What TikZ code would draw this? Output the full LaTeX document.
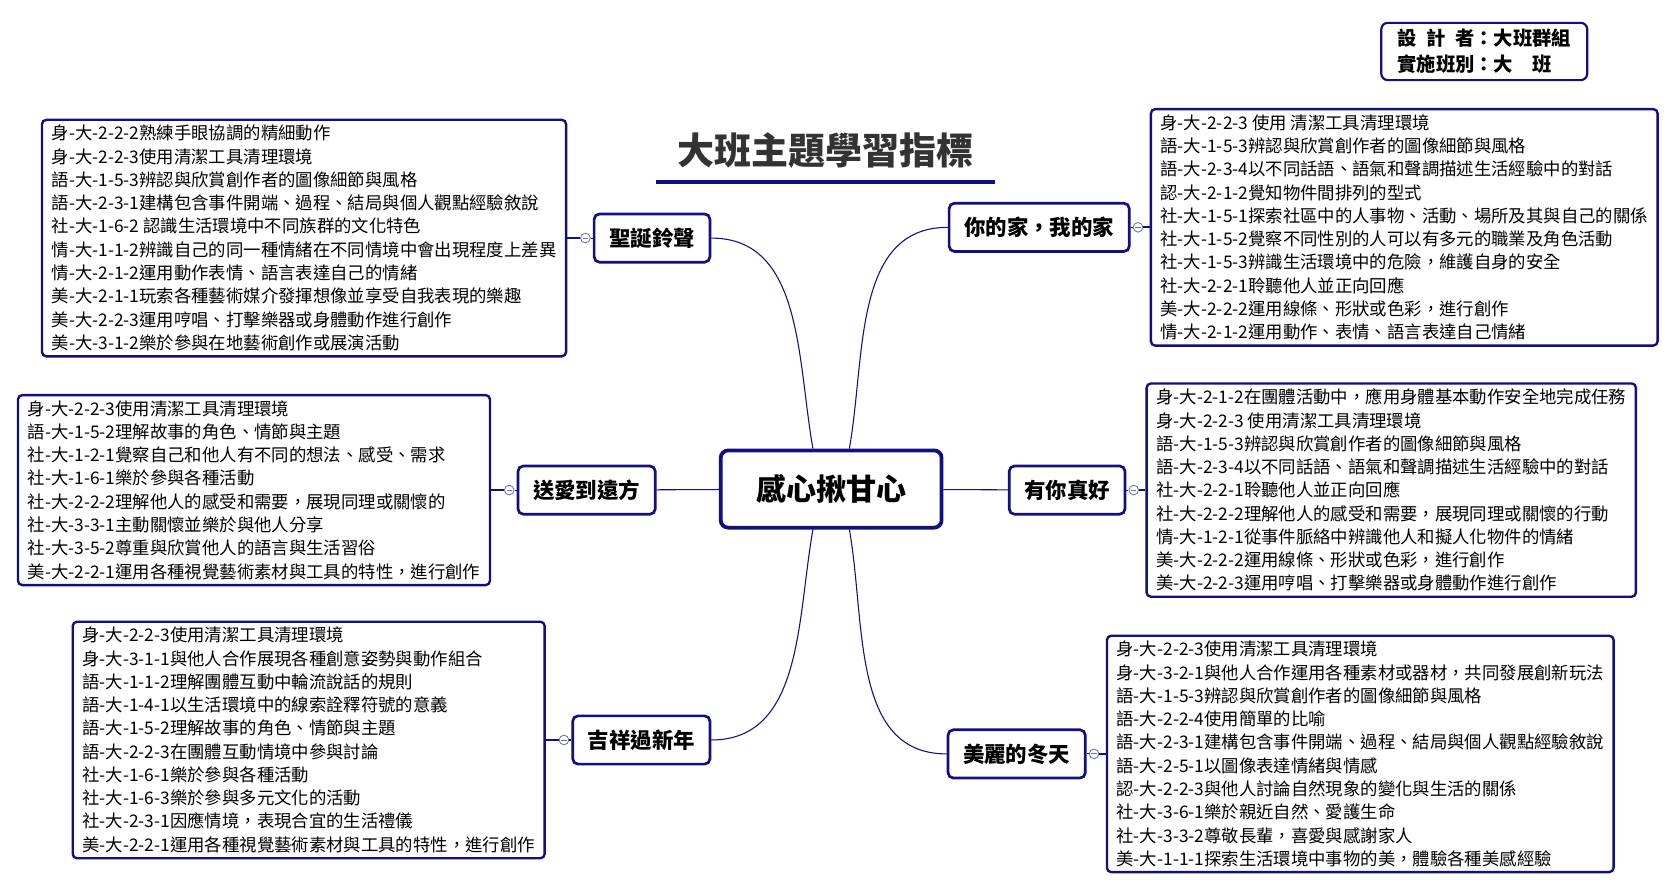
\documentclass[tikz,border=0pt]{standalone}
\usepackage{fontspec}
\setmainfont{Noto Sans CJK TC}
\usepackage{tikz}
\usetikzlibrary{positioning, calc}
\definecolor{mapnavy}{RGB}{16,16,128}
\definecolor{titlegray}{RGB}{51,51,51}
\tikzset{
 hub/.style = {
    rectangle, draw=mapnavy, line width=3.5pt, fill=white,
    rounded corners=7pt,
    minimum width=206pt, minimum height=72pt,
    font=\fontsize{28pt}{32pt}\selectfont\bfseries},
 topic/.style = {
    rectangle, draw=mapnavy, line width=2.5pt, fill=white,
    rounded corners=5pt, inner xsep=14pt,
    minimum height=45pt,
    font=\fontsize{20pt}{24pt}\selectfont\bfseries},
 detail/.style = {
    rectangle, draw=mapnavy, line width=2.2pt, fill=white,
    rounded corners=4pt, align=left,
    inner xsep=9pt, inner ysep=5pt,
    font=\fontsize{16.2pt}{21.7pt}\selectfont},
 knob/.style = {
    circle, draw=mapnavy!60, line width=0.8pt, fill=white,
    minimum size=9pt, inner sep=0pt,
    path picture={\draw[mapnavy!60, line width=0.8pt]
      ([xshift=-2.5pt]path picture bounding box.center) -- ([xshift=2.5pt]path picture bounding box.center);}},
 link/.style = {
    draw=mapnavy, line width=1pt},
 stub/.style = {
    draw=mapnavy, line width=2pt},
 title label/.style = {
    inner sep=0pt, text=titlegray,
    font=\fontsize{34.5pt}{38pt}\selectfont\bfseries},
 info/.style = {
    rectangle, draw=mapnavy, line width=2pt, rounded corners=6pt,
    align=left, inner xsep=15pt, inner ysep=6pt,
    font=\fontsize{18pt}{24pt}\selectfont\bfseries},
}

\begin{document}
\begin{tikzpicture}[x=1pt, y=-1pt, node distance=6pt]
\path[use as bounding box, fill=white] (0,0) rectangle (1560,826);

% Title and plan
\node [title label] (title) at (770,140) {大班主題學習指標};
\draw [mapnavy, line width=3.5pt] ([xshift=-20pt,yshift=-13pt]title.south west) -- ([xshift=20pt,yshift=-13pt]title.south east);
\node [info] (plan) at (1384,48) {\makebox[4em][s]{設\hfill 計\hfill 者}：大班群組\\實施班別：大\quad 班};

% Place nodes
\node [hub]   (hub) at (775,456) {感心揪甘心};
\node [topic] (t1)  at (608,222) {聖誕鈴聲};
\node [topic] (t2)  at (969,212) {你的家，我的家};
\node [topic] (t3)  at (547,457) {送愛到遠方};
\node [topic] (t4)  at (995,457) {有你真好};
\node [topic] (t5)  at (598,690) {吉祥過新年};
\node [topic] (t6)  at (948,703) {美麗的冬天};

\node [knob, left=2pt of t1]  (k1) {};
\node [knob, right=2pt of t2] (k2) {};
\node [knob, left=2pt of t3]  (k3) {};
\node [knob, right=2pt of t4] (k4) {};
\node [knob, left=2pt of t5]  (k5) {};
\node [knob, right=2pt of t6] (k6) {};

\node [detail, left=12pt of k1] (d1) {身-大-2-2-2熟練手眼協調的精細動作\\
身-大-2-2-3使用清潔工具清理環境\\
語-大-1-5-3辨認與欣賞創作者的圖像細節與風格\\
語-大-2-3-1建構包含事件開端、過程、結局與個人觀點經驗敘說\\
社-大-1-6-2 認識生活環境中不同族群的文化特色\\
情-大-1-1-2辨識自己的同一種情緒在不同情境中會出現程度上差異\\
情-大-2-1-2運用動作表情、語言表達自己的情緒\\
美-大-2-1-1玩索各種藝術媒介發揮想像並享受自我表現的樂趣\\
美-大-2-2-3運用哼唱、打擊樂器或身體動作進行創作\\
美-大-3-1-2樂於參與在地藝術創作或展演活動};

\node [detail, right=of k2] (d2) {身-大-2-2-3 使用 清潔工具清理環境\\
語-大-1-5-3辨認與欣賞創作者的圖像細節與風格\\
語-大-2-3-4以不同話語、語氣和聲調描述生活經驗中的對話\\
認-大-2-1-2覺知物件間排列的型式\\
社-大-1-5-1探索社區中的人事物、活動、場所及其與自己的關係\\
社-大-1-5-2覺察不同性別的人可以有多元的職業及角色活動\\
社-大-1-5-3辨識生活環境中的危險，維護自身的安全\\
社-大-2-2-1聆聽他人並正向回應\\
美-大-2-2-2運用線條、形狀或色彩，進行創作\\
情-大-2-1-2運用動作、表情、語言表達自己情緒};

\node [detail, left=12pt of k3] (d3) {身-大-2-2-3使用清潔工具清理環境\\
語-大-1-5-2理解故事的角色、情節與主題\\
社-大-1-2-1覺察自己和他人有不同的想法、感受、需求\\
社-大-1-6-1樂於參與各種活動\\
社-大-2-2-2理解他人的感受和需要，展現同理或關懷的\\
社-大-3-3-1主動關懷並樂於與他人分享\\
社-大-3-5-2尊重與欣賞他人的語言與生活習俗\\
美-大-2-2-1運用各種視覺藝術素材與工具的特性，進行創作};

\node [detail, right=of k4] (d4) {身-大-2-1-2在團體活動中，應用身體基本動作安全地完成任務\\
身-大-2-2-3 使用清潔工具清理環境\\
語-大-1-5-3辨認與欣賞創作者的圖像細節與風格\\
語-大-2-3-4以不同話語、語氣和聲調描述生活經驗中的對話\\
社-大-2-2-1聆聽他人並正向回應\\
社-大-2-2-2理解他人的感受和需要，展現同理或關懷的行動\\
情-大-1-2-1從事件脈絡中辨識他人和擬人化物件的情緒\\
美-大-2-2-2運用線條、形狀或色彩，進行創作\\
美-大-2-2-3運用哼唱、打擊樂器或身體動作進行創作};

\node [detail, left=12pt of k5] (d5) {身-大-2-2-3使用清潔工具清理環境\\
身-大-3-1-1與他人合作展現各種創意姿勢與動作組合\\
語-大-1-1-2理解團體互動中輪流說話的規則\\
語-大-1-4-1以生活環境中的線索詮釋符號的意義\\
語-大-1-5-2理解故事的角色、情節與主題\\
語-大-2-2-3在團體互動情境中參與討論\\
社-大-1-6-1樂於參與各種活動\\
社-大-1-6-3樂於參與多元文化的活動\\
社-大-2-3-1因應情境，表現合宜的生活禮儀\\
美-大-2-2-1運用各種視覺藝術素材與工具的特性，進行創作};

\node [detail, right=of k6] (d6) {身-大-2-2-3使用清潔工具清理環境\\
身-大-3-2-1與他人合作運用各種素材或器材，共同發展創新玩法\\
語-大-1-5-3辨認與欣賞創作者的圖像細節與風格\\
語-大-2-2-4使用簡單的比喻\\
語-大-2-3-1建構包含事件開端、過程、結局與個人觀點經驗敘說\\
語-大-2-5-1以圖像表達情緒與情感\\
認-大-2-2-3與他人討論自然現象的變化與生活的關係\\
社-大-3-6-1樂於親近自然、愛護生命\\
社-大-3-3-2尊敬長輩，喜愛與感謝家人\\
美-大-1-1-1探索生活環境中事物的美，體驗各種美感經驗};

% Connectors
\path [link] (t1.east) to[out=0, in=100] ([xshift=-17pt]hub.north);
\path [link] (t2.west) to[out=180, in=80] ([xshift=17pt]hub.north);
\path [link] (t3) -- (hub);
\path [link] (t4) -- (hub);
\path [link] (t5.east) to[out=0, in=-100] ([xshift=-17pt]hub.south);
\path [link] (t6.west) to[out=180, in=-80] ([xshift=17pt]hub.south);

\path [link] (k1) -- (t1);
\path [link] (k2) -- (t2);
\path [link] (k3) -- (t3);
\path [link] (k4) -- (t4);
\path [link] (k5) -- (t5);
\path [link] (k6) -- (t6);
\path [stub] (k1) -- (d1);
\path [stub] (k2) -- (d2);
\path [stub] (k3) -- (d3);
\path [stub] (k4) -- (d4);
\path [stub] (k5) -- (d5);
\path [stub] (k6) -- (d6);

\end{tikzpicture}
\end{document}
